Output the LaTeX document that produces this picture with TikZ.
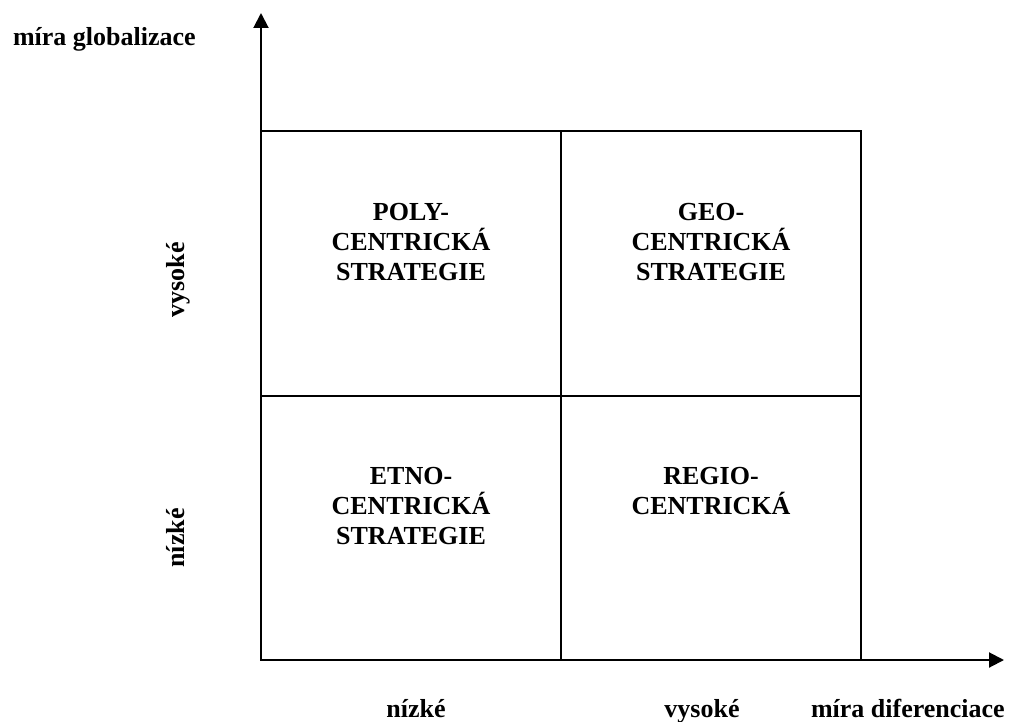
\documentclass[tikz,border=0pt]{standalone}
\usepackage{fontspec}
\setmainfont{Liberation Serif}
\usetikzlibrary{arrows.meta}
\begin{document}
\begin{tikzpicture}[x=1pt,y=-1pt, line width=2pt,
  lbl/.style={font=\bfseries\fontsize{26}{30}\selectfont, inner sep=0pt},
  cell/.style={lbl, align=center, anchor=north},
  axis/.style={-{Triangle[length=15pt,width=15pt]}}]
\useasboundingbox (0,0) rectangle (1011,722);
\coordinate (O) at (261,660);
\coordinate (ytip) at (261,13);
\coordinate (xtip) at (1004,660);
\coordinate (TL) at (261,131);
\coordinate (BR) at (861,660);
\coordinate (mt) at (561,131);
\coordinate (mb) at (561,660);
\coordinate (ml) at (261,396);
\coordinate (mr) at (861,396);
\draw (TL) rectangle (BR);
\draw (mt) -- (mb);
\draw (ml) -- (mr);
\draw[axis] (O) -- (ytip);
\draw[axis] (O) -- (xtip);
\node[cell] (poly) at (411,202.4) {POLY-\\CENTRICKÁ\\STRATEGIE};
\node[cell] (geo) at (711,202.4) {GEO-\\CENTRICKÁ\\STRATEGIE};
\node[cell] (etno) at (411,466.4) {ETNO-\\CENTRICKÁ\\STRATEGIE};
\node[cell] (regio) at (711,466.4) {REGIO-\\CENTRICKÁ};
\node[lbl, anchor=base west] (ylabel) at (12,46) {míra globalizace};
\node[lbl, anchor=base west] (xlabel) at (810,717) {míra diferenciace};
\node[lbl, anchor=base] (xlow) at (416,717) {nízké};
\node[lbl, anchor=base] (xhigh) at (702,717) {vysoké};
\node[lbl, anchor=base, rotate=90] (yhigh) at (184,280) {vysoké};
\node[lbl, anchor=base, rotate=90] (ylow) at (184,538) {nízké};
\end{tikzpicture}
\end{document}
